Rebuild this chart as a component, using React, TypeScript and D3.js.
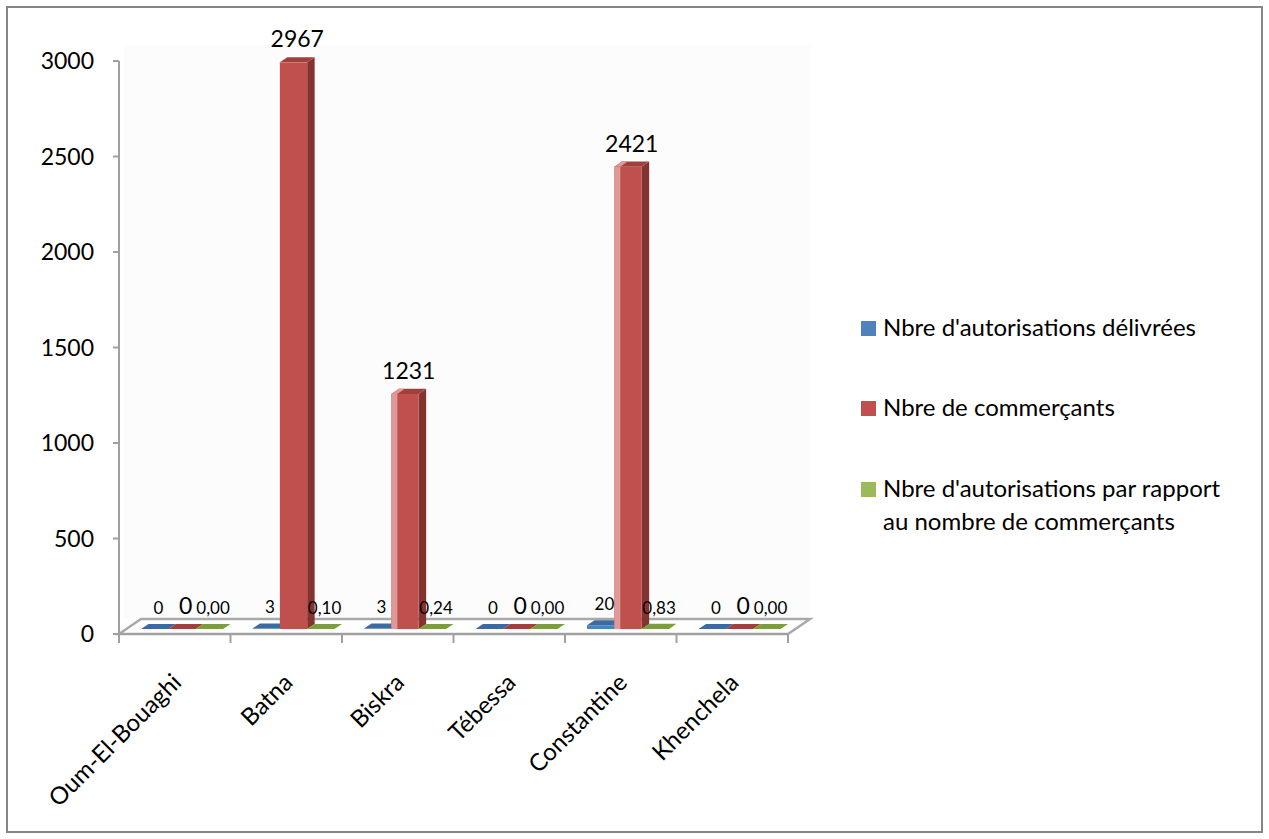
import React from "react";
import * as d3 from "d3";

const categories = ["Oum-El-Bouaghi", "Batna", "Biskra", "Tébessa", "Constantine", "Khenchela"];
const autorisations = [0, 3, 3, 0, 20, 0];
const commercants = [0, 2967, 1231, 0, 2421, 0];
const ratio = [0, 0.1, 0.24, 0, 0.83, 0];
const yTicks = [0, 500, 1000, 1500, 2000, 2500, 3000];
const seriesNames = [
  "Nbre d'autorisations délivrées",
  "Nbre de commerçants",
  "Nbre d'autorisations par rapport au nombre de commerçants",
];

const W = 1269;
const H = 839;
const FONT = "Lato, 'Open Sans', sans-serif";
const DX = 22;
const DY = -15;
const D0 = 0.33;
const D1 = 0.67;

const fmtInt = (v: number) => String(v);
const fmtRatio = (v: number) => d3.format(".2f")(v).replace(".", ",");

const series = [
  { key: "a", name: seriesNames[0], values: autorisations, front: "#4f81bd", side: "#2f5587", top: "#3d6aa0", shine: "#a9c4e2", fmt: fmtInt, size: 17 },
  { key: "c", name: seriesNames[1], values: commercants, front: "#c0504d", side: "#843331", top: "#a0403d", shine: "#dd9a98", fmt: fmtInt, size: 23 },
  { key: "r", name: seriesNames[2], values: ratio, front: "#9bbb59", side: "#6b8a35", top: "#7b9c44", shine: "#c4d89c", fmt: fmtRatio, size: 17 },
];

export default function App() {
  const x = d3.scaleBand<string>().domain(categories).range([119, 788]).paddingInner(0).paddingOuter(0);
  const xs = d3.scaleBand<string>().domain(series.map((s) => s.key)).range([0, x.bandwidth()]).paddingInner(0).paddingOuter(0.54);
  const y = d3.scaleLinear().domain([0, 3000]).range([634, 61]);
  const base = y(0);

  const bars: any[] = [];
  categories.forEach((cat, ci) => {
    series.forEach((s) => {
      const v = s.values[ci];
      const x0 = (x(cat) as number) + (xs(s.key) as number);
      const x1 = x0 + xs.bandwidth();
      const yv = y(v);
      const fx0 = x0 + D0 * DX, fx1 = x1 + D0 * DX;
      const bx0 = x0 + D1 * DX, bx1 = x1 + D1 * DX;
      const ft = yv + D0 * DY, fb = base + D0 * DY;
      const bt = yv + D1 * DY, bb = base + D1 * DY;
      const h = fb - ft;
      const shineW = h > 20 && fx0 > 350 ? 6 : 0;
      bars.push(
        <g key={cat + s.key}>
          {h > 0.5 && (
            <polygon points={`${fx1},${ft} ${bx1},${bt} ${bx1},${bb} ${fx1},${fb}`} fill={s.side} />
          )}
          <polygon points={`${fx0},${ft} ${fx1},${ft} ${bx1},${bt} ${bx0},${bt}`} fill={s.top} />
          {shineW > 0 && (
            <polygon points={`${fx0},${ft} ${fx0 + shineW},${ft} ${bx0 + shineW},${bt} ${bx0},${bt}`} fill={s.shine} />
          )}
          {h > 0.5 && <rect x={fx0} y={ft} width={fx1 - fx0} height={h} fill={s.front} />}
          {shineW > 0 && <rect x={fx0} y={ft} width={shineW} height={h} fill={s.shine} />}
        </g>
      );
    });
  });

  const labels: any[] = [];
  categories.forEach((cat, ci) => {
    series.forEach((s) => {
      const v = s.values[ci];
      const x0 = (x(cat) as number) + (xs(s.key) as number);
      const cx = x0 + xs.bandwidth() / 2 + 0.5 * DX;
      const bt = y(v) + D1 * DY;
      labels.push(
        <text key={"l" + cat + s.key} x={cx} y={bt - 10} textAnchor="middle" fontSize={s.size} fontFamily={FONT} fill="#000">
          {s.fmt(v)}
        </text>
      );
    });
  });

  const fl = [
    [119, base],
    [119 + DX, base + DY],
    [788 + DX, base + DY],
    [788, base],
  ];

  const legendY = [321, 401, 482];

  return (
    <svg width={W} height={H} style={{ position: "absolute", left: 0, top: 0, background: "#fff" }}>
      <rect x={7} y={7} width={1255} height={825} fill="#fff" stroke="#868686" strokeWidth={2} />
      <rect x={124} y={45} width={686} height={573} fill="#fcfcfc" />
      <polygon points={fl.map((p) => p.join(",")).join(" ")} fill="#fff" stroke="#a9a9a9" strokeWidth={2.5} />
      <line x1={119} x2={119} y1={y(3000)} y2={base} stroke="#a0a0a0" strokeWidth={2} />
      {yTicks.map((t) => (
        <g key={"yt" + t}>
          <line x1={113} x2={119} y1={y(t)} y2={y(t)} stroke="#a0a0a0" strokeWidth={2} />
          <text x={94} y={y(t)} dy="0.35em" textAnchor="end" fontSize={23} fontFamily={FONT} fill="#000">
            {t}
          </text>
        </g>
      ))}
      <line x1={113} x2={788} y1={base} y2={base} stroke="#a0a0a0" strokeWidth={2} />
      {[...categories.map((c) => x(c) as number), 788].map((t, i) => (
        <line key={"xt" + i} x1={t} x2={t} y1={base} y2={base + 9} stroke="#a0a0a0" strokeWidth={2} />
      ))}
      {bars}
      {labels}
      {categories.map((c) => {
        const cx = (x(c) as number) + x.bandwidth() / 2;
        return (
          <text key={"xl" + c} transform={`translate(${cx + 8},${base + 50}) rotate(-45)`} textAnchor="end" fontSize={24} fontFamily={FONT} fill="#000">
            {c}
          </text>
        );
      })}
      {series.map((s, i) => (
        <rect key={"lg" + s.key} x={861} y={legendY[i]} width={15} height={15} fill={s.front} />
      ))}
      <text x={883} y={336} fontSize={24} fontFamily={FONT} fill="#000">{seriesNames[0]}</text>
      <text x={883} y={416} fontSize={24} fontFamily={FONT} fill="#000">{seriesNames[1]}</text>
      <text x={883} y={497} fontSize={24} fontFamily={FONT} fill="#000">
        <tspan x={883}>Nbre d'autorisations par rapport</tspan>
        <tspan x={883} dy={33}>au nombre de commerçants</tspan>
      </text>
    </svg>
  );
}
